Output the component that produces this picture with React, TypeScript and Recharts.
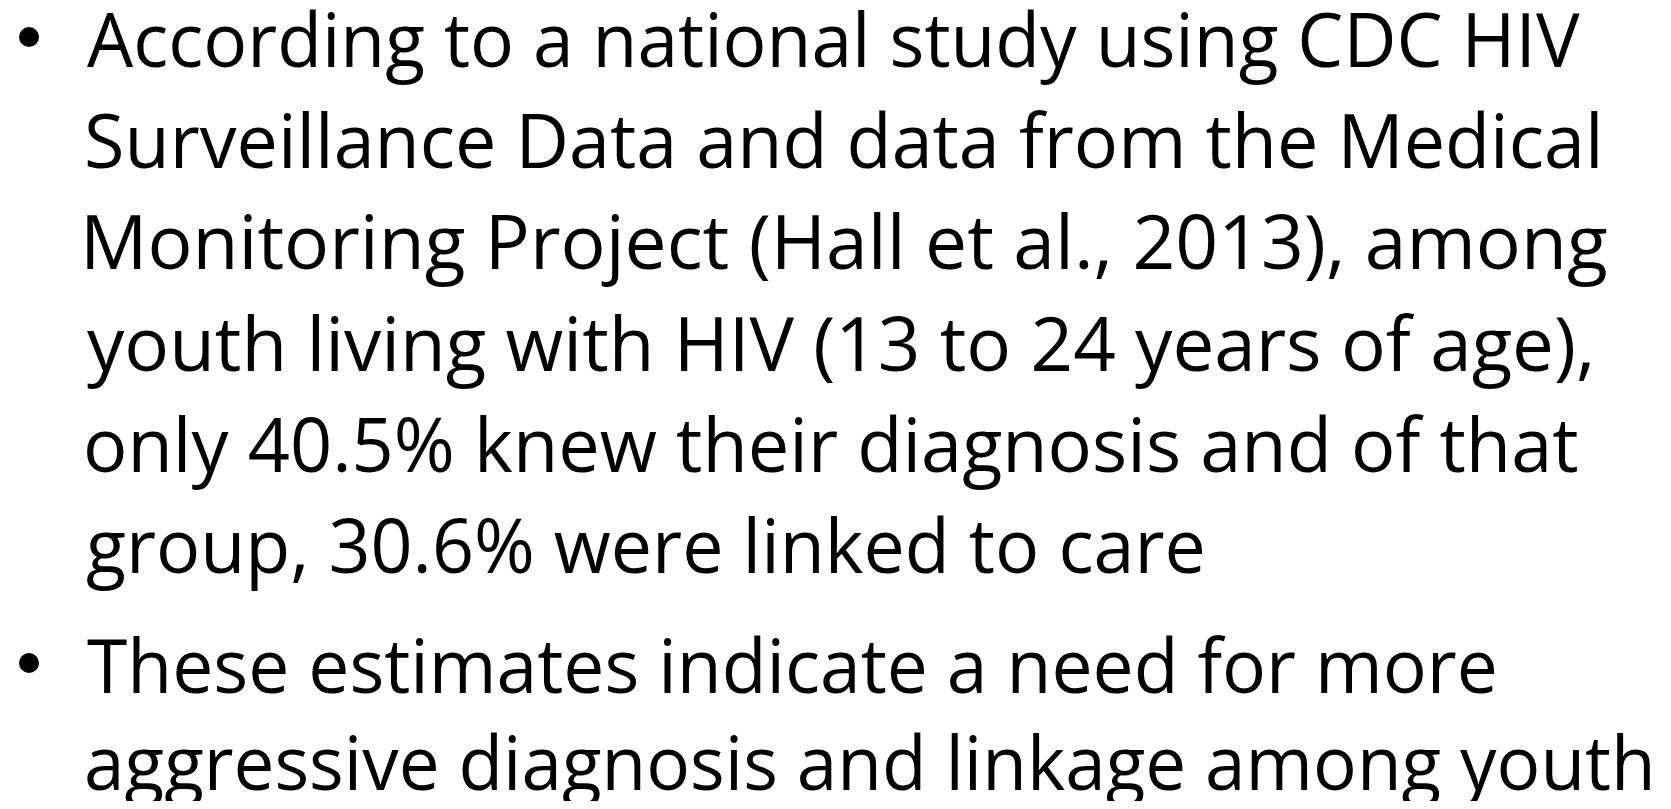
import { useMemo } from 'react';
import { Surface } from 'recharts';

// slide text, one entry per wrapped line
const bulletOne = [
  'According to a national study using CDC HIV',
  'Surveillance Data and data from the Medical',
  'Monitoring Project (Hall et al., 2013), among',
  'youth living with HIV (13 to 24 years of age),',
  'only 40.5% knew their diagnosis and of that',
  'group, 30.6% were linked to care',
];

const bulletTwo = [
  'These estimates indicate a need for more',
  'aggressive diagnosis and linkage among youth',
];

// layout (px) measured from the slide
const W = 1671;
const H = 809;
const inkLeft = 87;
const fontSize = 75;
const font = '"Open Sans", "Noto Sans", sans-serif';
const inkRightOne = [1580, 1598, 1607, 1590, 1578, 1203];
const inkRightTwo = [1495, 1650];
const blocks = [
  { lines: bulletOne, right: inkRightOne, top: 67, step: 101.2 },
  { lines: bulletTwo, right: inkRightTwo, top: 693, step: 97 },
];

// ink box of each line in the chosen font, so it can be stretched to the slide's width
function useInk(lines: string[]) {
  return useMemo(() => {
    const ctx = document.createElement('canvas').getContext('2d');
    return lines.map((t) => {
      if (!ctx) return { left: 0, width: t.length * fontSize * 0.5 };
      ctx.font = `${fontSize}px ${font}`;
      const m = ctx.measureText(t);
      return { left: m.actualBoundingBoxLeft, width: m.actualBoundingBoxLeft + m.actualBoundingBoxRight };
    });
  }, [lines]);
}

function Block({ lines, right, top, step }: { lines: string[]; right: number[]; top: number; step: number }) {
  const ink = useInk(lines);
  return (
    <g>
      <circle cx={29} cy={top - 30} r={10} fill="#000" />
      {lines.map((t, i) => {
        const sx = (right[i] - inkLeft) / ink[i].width;
        return (
          <g key={t} transform={`translate(${inkLeft} ${top + i * step}) scale(${sx} 1)`}>
            <text x={ink[i].left} y={0} fontFamily={font} fontSize={fontSize} fill="#000">
              {t}
            </text>
          </g>
        );
      })}
    </g>
  );
}

export default function App() {
  return (
    <div style={{ width: W, height: H, margin: -8, background: '#fff', overflow: 'hidden' }}>
      <Surface width={W} height={H}>
        <rect x={0} y={0} width={W} height={H} fill="#fff" />
        {blocks.map((b) => (
          <Block key={b.top} lines={b.lines} right={b.right} top={b.top} step={b.step} />
        ))}
      </Surface>
    </div>
  );
}
